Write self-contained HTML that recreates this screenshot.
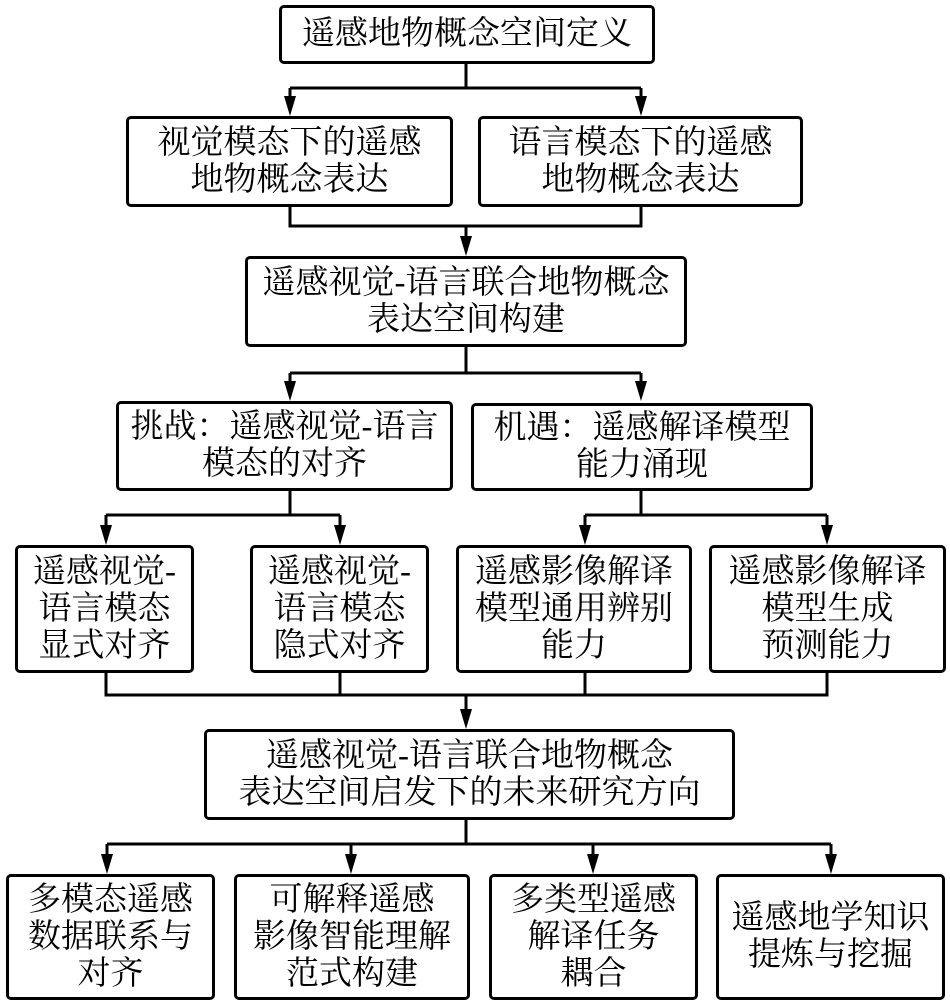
<!DOCTYPE html>
<html><head><meta charset="utf-8"><style>
html,body{margin:0;padding:0;background:#fff;}
body{width:950px;height:1005px;position:relative;overflow:hidden;font-family:"Liberation Serif","Noto Serif CJK SC","Noto Serif CJK",serif;}
.b{position:absolute;box-sizing:border-box;border:3px solid #000;border-radius:5px;display:flex;align-items:center;justify-content:center;text-align:center;font-size:33px;line-height:37px;color:#000;background:#fff;}
svg{position:absolute;left:0;top:0;z-index:2;}
</style></head><body>
<svg width="950" height="1005" viewBox="0 0 950 1005">
<g stroke="#000" stroke-width="3" fill="none">
<path d="M466,63 V88 M290,88 H641 M290,88 V100 M641,88 V100"/>
<path d="M290,206 V226 H641 V206 M466,226 V240"/>
<path d="M466,346 V373 M290,373 H641 M290,373 V385 M641,373 V385"/>
<path d="M290,490 V515 M106,515 H340 M106,515 V529 M340,515 V529"/>
<path d="M641,490 V515 M585,515 H827 M585,515 V529 M827,515 V529"/>
<path d="M106,672 V695 H827 V672 M340,672 V695 M585,672 V695 M466,695 V713"/>
<path d="M466,819 V844 M107,844 H831 M107,844 V858 M351,844 V858 M593,844 V858 M831,844 V858"/>
</g>
<g fill="#000">
<polygon points="284,96 296,96 290,116"/><polygon points="635,96 647,96 641,116"/>
<polygon points="460,236 472,236 466,256"/>
<polygon points="284,381 296,381 290,401"/><polygon points="635,381 647,381 641,401"/>
<polygon points="100,525 112,525 106,545"/><polygon points="334,525 346,525 340,545"/>
<polygon points="579,525 591,525 585,545"/><polygon points="821,525 833,525 827,545"/>
<polygon points="460,709 472,709 466,729"/>
<polygon points="101,854 113,854 107,874"/><polygon points="345,854 357,854 351,874"/>
<polygon points="587,854 599,854 593,874"/><polygon points="825,854 837,854 831,874"/>
</g></svg>
<div class="b" style="left:279px;top:5px;width:376px;height:59px;">遥感地物概念空间定义</div>
<div class="b" style="left:126px;top:116px;width:327px;height:91px;">视觉模态下的遥感<br>地物概念表达</div>
<div class="b" style="left:478px;top:116px;width:325px;height:91px;">语言模态下的遥感<br>地物概念表达</div>
<div class="b" style="left:245px;top:256px;width:442px;height:91px;">遥感视觉-语言联合地物概念<br>表达空间构建</div>
<div class="b" style="left:116px;top:401px;width:337px;height:90px;">挑战：遥感视觉-语言<br>模态的对齐</div>
<div class="b" style="left:471px;top:403px;width:342px;height:88px;">机遇：遥感解译模型<br>能力涌现</div>
<div class="b" style="left:15px;top:545px;width:179px;height:128px;">遥感视觉-<br>语言模态<br>显式对齐</div>
<div class="b" style="left:250px;top:545px;width:179px;height:128px;">遥感视觉-<br>语言模态<br>隐式对齐</div>
<div class="b" style="left:456px;top:545px;width:236px;height:128px;">遥感影像解译<br>模型通用辨别<br>能力</div>
<div class="b" style="left:709px;top:545px;width:237px;height:128px;">遥感影像解译<br>模型生成<br>预测能力</div>
<div class="b" style="left:204px;top:729px;width:531px;height:91px;">遥感视觉-语言联合地物概念<br>表达空间启发下的未来研究方向</div>
<div class="b" style="left:6px;top:874px;width:209px;height:126px;">多模态遥感<br>数据联系与<br>对齐</div>
<div class="b" style="left:234px;top:874px;width:236px;height:126px;">可解释遥感<br>影像智能理解<br>范式构建</div>
<div class="b" style="left:489px;top:874px;width:209px;height:126px;">多类型遥感<br>解译任务<br>耦合</div>
<div class="b" style="left:716px;top:874px;width:229px;height:126px;">遥感地学知识<br>提炼与挖掘</div>
</body></html>
